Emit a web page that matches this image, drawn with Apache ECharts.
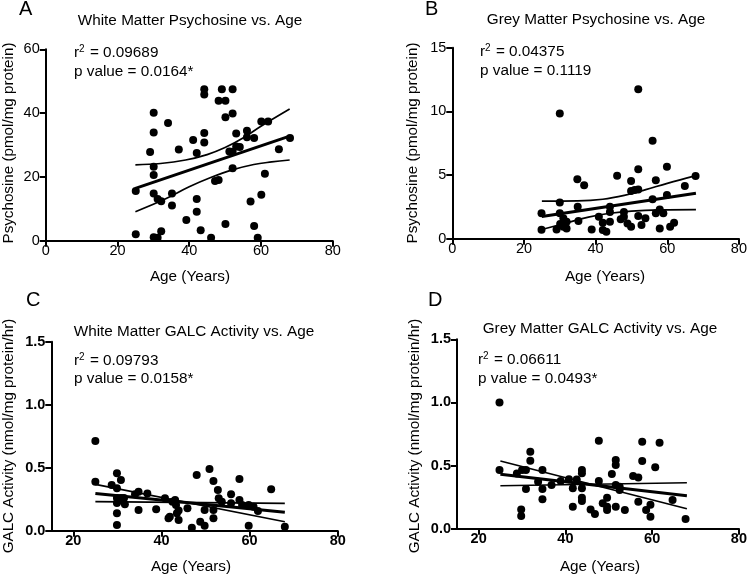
<!DOCTYPE html>
<html><head><meta charset="utf-8">
<script src="https://cdn.jsdelivr.net/npm/echarts@6/dist/echarts.min.js"></script>
<style>html,body{margin:0;padding:0;background:#fff}#c{width:750px;height:577px}</style>
</head><body><div id="c"></div>
<script>
// ---- Panel A: White matter psychosine vs age ----
const aAge = [25.1,25.1,29.1,30.1,30.1,30.1,30.1,30.1,30.1,31.2,31.2,32.2,32.2,34.1,35.2,35.2,37.1,39.2,41.1,42.1,42.1,42.1,43.2,44.2,44.2,44.2,44.2,46.1,47.2,48.2,48.2,49.1,50.1,50.1,50.1,51.2,52.1,52.1,52.1,52.1,53.1,53.1,54.1,56.1,56.1,57.1,58.1,58.1,59.1,60.1,60.1,61.1,62.0,65.0,68.1];
const aVal = [2.0,15.6,27.8,40.1,33.9,23.2,20.6,14.8,1.1,0.9,13.1,12.4,3.0,36.9,14.8,11.0,28.6,6.5,31.6,27.5,13.1,9.1,3.3,47.5,45.8,33.8,30.8,0.9,18.7,19.0,43.9,47.5,43.9,38.7,5.2,28.0,47.5,39.9,27.9,22.7,33.6,29.5,29.4,34.5,32.4,12.3,4.6,32.2,0.9,37.4,14.4,21.0,37.4,28.7,32.2];
const aFitAge = [25,68];            const aFitVal = [16.4,32.8];
const aUpAge = [25,32,39,45,50,55,60,68]; const aUpVal = [23.8,24.2,25.3,27.0,29.2,32.2,35.9,41.3];
const aLoAge = [25,33,40,46,52,58,63,68]; const aLoVal = [9.1,12.9,16.9,19.8,22.2,23.9,24.7,25.3];

// ---- Panel B: Grey matter psychosine vs age ----
const bAge = [24.9,24.9,30.0,30.0,30.0,29.1,31.0,31.0,31.9,31.9,30.1,34.9,35.0,35.2,36.8,38.9,40.9,42.0,42.0,43.0,44.0,44.0,44.0,46.0,47.0,47.9,47.9,48.9,49.9,49.9,49.9,50.9,51.9,51.9,51.9,51.9,52.8,53.9,55.9,55.9,56.8,56.8,57.9,57.9,58.9,59.9,59.9,60.8,61.9,64.9,67.9];
const bVal = [2.0,0.7,2.85,9.84,2.0,0.73,1.6,0.94,1.34,0.81,1.15,4.66,2.5,1.39,4.2,0.73,1.73,1.26,0.68,0.55,2.5,2.1,1.34,4.95,1.52,2.1,1.73,1.2,4.53,0.94,3.74,3.82,11.73,5.45,3.87,1.78,1.07,1.6,7.7,3.09,4.6,2.0,2.3,0.81,2.0,5.65,3.43,0.94,1.26,4.14,4.92];
const bFitAge = [25,68];            const bFitVal = [1.75,3.57];
const bUpAge = [25,35,42,48,54,60,68]; const bUpVal = [2.95,2.97,3.1,3.4,3.85,4.35,4.95];
const bLoAge = [25,32,38,44,50,58,68]; const bLoVal = [0.72,1.25,1.7,2.0,2.17,2.26,2.28];

// ---- Panel C: White matter GALC activity vs age ----
const cAge = [25,25,28.7,29.9,30.8,29.9,29.9,29.9,30.8,31.5,30.3,31.7,29.9,29.9,34.0,34.8,34.8,36.8,38.8,40.8,41.6,41.9,42.5,43.3,43.5,43.9,43.9,43.1,45.9,46.9,48.0,48.8,49.8,49.8,50.9,51.8,51.8,51.8,52.8,53.0,53.7,55.8,55.8,57.7,57.7,58.3,59.8,59.8,60.9,61.9,64.9,68.0];
const cVal = [0.712,0.389,0.363,0.456,0.402,0.336,0.26,0.22,0.26,0.26,0.24,0.21,0.138,0.045,0.29,0.31,0.164,0.296,0.170,0.257,0.098,0.110,0.23,0.204,0.138,0.085,0.16,0.243,0.178,0.024,0.442,0.071,0.040,0.164,0.49,0.394,0.164,0.098,0.323,0.257,0.23,0.289,0.217,0.41,0.243,0.204,0.040,0.204,0.19,0.157,0.328,0.032];
const cFitAge = [25,68]; const cFitVal = [0.296,0.146];
const cCiAAge = [25,68]; const cCiAVal = [0.368,0.071];
const cCiBAge = [25,68]; const cCiBVal = [0.230,0.217];

// ---- Panel D: Grey matter GALC activity vs age ----
const dAge = [24.8,24.8,28.8,30.0,30.9,31.9,31.9,30.9,29.8,29.8,33.7,34.7,34.7,34.7,36.8,38.9,40.8,41.7,41.7,42.6,43.8,43.8,43.8,43.8,43.8,45.8,46.8,47.7,47.7,48.6,49.6,49.6,49.6,50.7,51.6,51.6,51.6,51.6,52.5,52.5,53.7,55.6,56.8,56.8,57.7,57.7,58.6,59.6,59.6,60.7,61.7,64.7,67.7];
const dVal = [1.0,0.465,0.438,0.465,0.465,0.61,0.538,0.314,0.153,0.100,0.372,0.465,0.314,0.233,0.346,0.378,0.391,0.32,0.174,0.39,0.465,0.44,0.32,0.245,0.219,0.153,0.116,0.697,0.378,0.201,0.245,0.174,0.148,0.433,0.544,0.504,0.346,0.174,0.333,0.306,0.148,0.417,0.406,0.214,0.689,0.536,0.148,0.095,0.19,0.486,0.681,0.227,0.077];
const dFitAge = [25,68]; const dFitVal = [0.431,0.261];
const dCiAAge = [25,68]; const dCiAVal = [0.536,0.158];
const dCiBAge = [25,68]; const dCiBVal = [0.340,0.364];

// ---- Text ----
const panelLetters = ['A','B','C','D'];
const panelTitles = ['White Matter Psychosine vs. Age','Grey Matter Psychosine vs. Age','White Matter GALC Activity vs. Age','Grey Matter GALC Activity vs. Age'];
const r2Values = ['0.09689','0.04375','0.09793','0.06611'];
const pTexts = ['p value = 0.0164*','p value = 0.1119','p value = 0.0158*','p value = 0.0493*'];
const xTitle = 'Age (Years)';
const yTitles = ['Psychosine (pmol/mg protein)','Psychosine (pmol/mg protein)','GALC Activity (nmol/mg protein/hr)','GALC Activity (nmol/mg protein/hr)'];
const galcTicks = [20,40,60,80];

const FONT = '"Liberation Sans", Arial, Helvetica, sans-serif';
const zip = (a,b) => a.map((v,i)=>[v,b[i]]);

const grids = [
  {left:45.7, top:49.3, width:287, height:191.4},
  {left:452.3, top:47.7, width:286.7, height:191},
  {left:51.3, top:341.7, width:286.4, height:189},
  {left:457, top:339.3, width:287.3, height:189.4}
];

function xAx(gi, min, bold, custom){
  const ax = {gridIndex:gi, type:'value', min:min, max:80,
    axisLine:{show:true,onZero:false,lineStyle:{color:'#000',width:2}},
    axisTick:{show:true,length:6,lineStyle:{color:'#000',width:2}},
    axisLabel:{color:'#000',fontSize:14.5,fontFamily:FONT,fontWeight:bold?'bold':'normal',margin:3},
    splitLine:{show:false}};
  if (custom) { ax.axisTick.customValues = custom; ax.axisLabel.customValues = custom; }
  else ax.interval = 20;
  return ax;
}
function yAx(gi, max, interval, bold, fmt){
  return {gridIndex:gi, type:'value', min:0, max:max, interval:interval,
    axisLine:{show:true,onZero:false,lineStyle:{color:'#000',width:2}},
    axisTick:{show:true,length:6,lineStyle:{color:'#000',width:2}},
    axisLabel:{color:'#000',fontSize:14.5,fontFamily:FONT,fontWeight:bold?'bold':'normal',margin:6,formatter:fmt},
    splitLine:{show:false}};
}
function scat(i, ages, vals){
  return {type:'scatter', xAxisIndex:i, yAxisIndex:i, data:zip(ages,vals), symbolSize:8,
    itemStyle:{color:'#000', opacity:1}, z:2};
}
function ln(i, ages, vals, w, smooth){
  return {type:'line', xAxisIndex:i, yAxisIndex:i, data:zip(ages,vals), symbol:'none', smooth:smooth?0.4:false,
    lineStyle:{color:'#000',width:w}, z:3};
}

const textEls = [];
const letterPos = [[19,9],[425,9],[26,300],[428,300]];
const titlePos = [[190,21],[596,20],[194,332],[600,329]];
const statPos = [[74,53,72],[480,52,71],[74,361,379],[478,360,379]];
const xTitlePos = [[190,277],[605,277],[191,567],[600,567]];
const yTitlePos = [[9,143],[413,143],[9,436],[415,436]];
for (let i=0;i<4;i++){
  textEls.push({type:'text', style:{text:panelLetters[i], x:letterPos[i][0], y:letterPos[i][1], font:'20px '+FONT, fill:'#000', textAlign:'left', textVerticalAlign:'middle'}});
  textEls.push({type:'text', style:{text:panelTitles[i], x:titlePos[i][0], y:titlePos[i][1], font:'15.3px '+FONT, fill:'#000', textAlign:'center', textVerticalAlign:'middle'}});
  textEls.push({type:'text', style:{text:'{n|r}{s|2}{n| = '+r2Values[i]+'}', x:statPos[i][0], y:statPos[i][1], fill:'#000', textAlign:'left', textVerticalAlign:'middle',
    rich:{n:{fontSize:15.3, fontFamily:FONT, fill:'#000'}, s:{fontSize:10, fontFamily:FONT, fill:'#000', verticalAlign:'top', padding:[0,1,7,0]}}}});
  textEls.push({type:'text', style:{text:pTexts[i], x:statPos[i][0], y:statPos[i][2], font:'15.3px '+FONT, fill:'#000', textAlign:'left', textVerticalAlign:'middle'}});
  textEls.push({type:'text', style:{text:xTitle, x:xTitlePos[i][0], y:xTitlePos[i][1], font:'15.3px '+FONT, fill:'#000', textAlign:'center', textVerticalAlign:'middle'}});
  textEls.push({type:'text', x:yTitlePos[i][0], y:yTitlePos[i][1], rotation:Math.PI/2, style:{text:yTitles[i], x:0, y:0, font:'15.2px '+FONT, fill:'#000', textAlign:'center', textVerticalAlign:'middle'}});
}

const f1 = v => v.toFixed(1);
const option = {
  animation:false,
  backgroundColor:'#fff',
  grid: grids,
  xAxis: [xAx(0,0,false), xAx(1,0,false), xAx(2,15,true,galcTicks), xAx(3,15,true,galcTicks)],
  yAxis: [yAx(0,60,20,false), yAx(1,15,5,false), yAx(2,1.5,0.5,true,f1), yAx(3,1.5,0.5,true,f1)],
  series: [
    scat(0,aAge,aVal), ln(0,aFitAge,aFitVal,3), ln(0,aUpAge,aUpVal,1.7,true), ln(0,aLoAge,aLoVal,1.7,true),
    scat(1,bAge,bVal), ln(1,bFitAge,bFitVal,3), ln(1,bUpAge,bUpVal,1.7,true), ln(1,bLoAge,bLoVal,1.7,true),
    scat(2,cAge,cVal), ln(2,cFitAge,cFitVal,3), ln(2,cCiAAge,cCiAVal,1.7), ln(2,cCiBAge,cCiBVal,1.7),
    scat(3,dAge,dVal), ln(3,dFitAge,dFitVal,3), ln(3,dCiAAge,dCiAVal,1.7), ln(3,dCiBAge,dCiBVal,1.7)
  ],
  graphic: {elements: textEls}
};
const chart = echarts.init(document.getElementById('c'), null, {renderer:'canvas'});
chart.setOption(option);
</script></body></html>
